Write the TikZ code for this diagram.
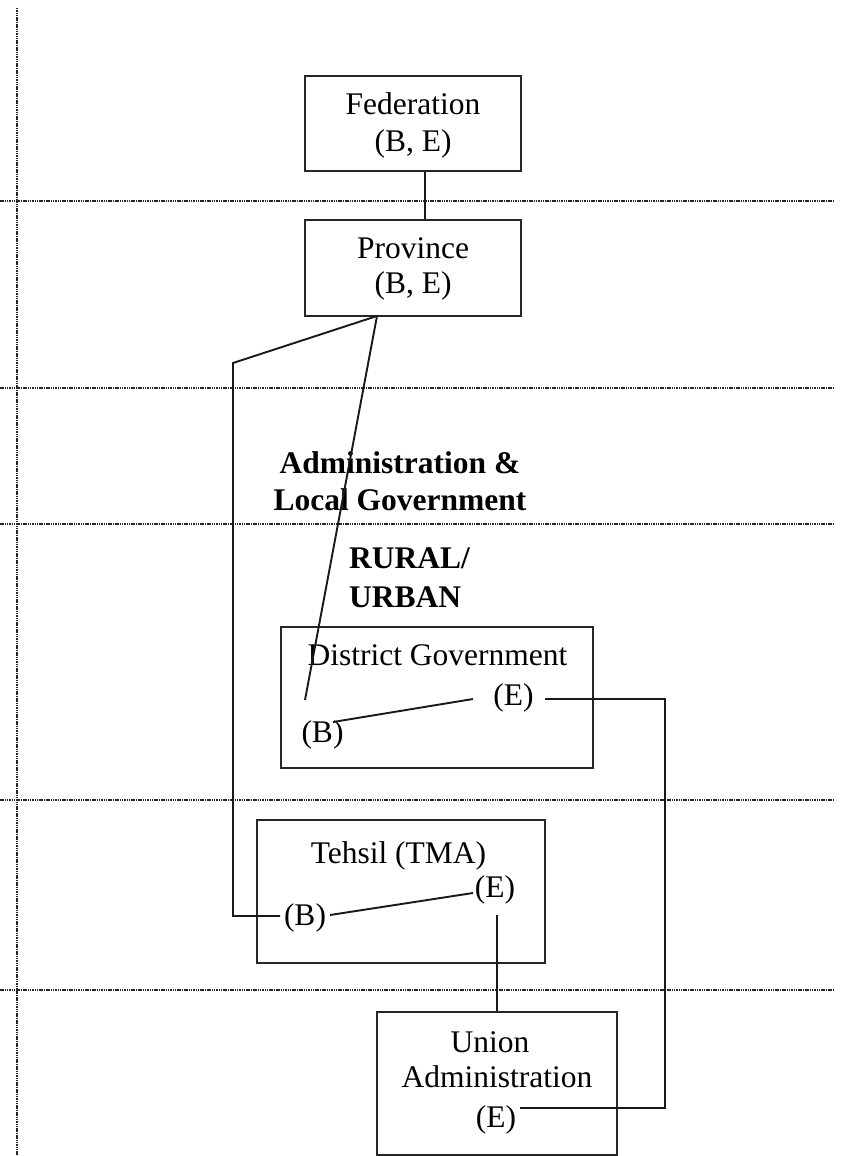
\documentclass[tikz,border=0pt]{standalone}
\usepackage{fontspec}
\setmainfont{Liberation Serif}
\begin{document}
\begin{tikzpicture}[x=1pt,y=-1pt,
  guide/.style={line width=1.4pt,draw=black!85,dash pattern=on 1.5pt off 0.8pt},
  box/.style={draw=black!85,line width=1.9pt,inner sep=0pt},
  link/.style={draw=black!90,line width=1.9pt},
  txt/.style={anchor=base,inner sep=2pt,font=\fontsize{31.5}{37}\selectfont},
  btxt/.style={txt,font=\fontsize{31.5}{37}\selectfont\bfseries}]
\useasboundingbox (0,0) rectangle (844,1156);
% guide lines
\coordinate (v0) at (17,8); \coordinate (v1) at (17,1156);
\draw[guide] (v0) -- (v1);
\foreach \yy/\nm in {201/g1,388/g2,524/g3,800/g4,990/g5}{
  \coordinate (\nm a) at (0,\yy); \coordinate (\nm b) at (833,\yy);
  \draw[guide] (\nm a) -- (\nm b);
}
% boxes
\node[box,minimum width=216pt,minimum height=95pt] (fed) at (413,123.5) {};
\node[box,minimum width=216pt,minimum height=96pt] (prov) at (413,268) {};
\node[box,minimum width=312pt,minimum height=141pt] (dist) at (437,697.5) {};
\node[box,minimum width=288pt,minimum height=143pt] (teh) at (401,891.5) {};
\node[box,minimum width=240pt,minimum height=143pt] (uni) at (497,1083.5) {};
% texts
\node[txt] (fedT) at (413,114) {Federation};
\node[txt] (fedBE) at (413,151) {(B, E)};
\node[txt] (provT) at (413,258) {Province};
\node[txt] (provBE) at (413,293) {(B, E)};
\node[btxt] (adm1) at (400,473) {Administration \&};
\node[btxt] (adm2) at (400,510) {Local Government};
\node[btxt,anchor=base west,inner sep=0pt] (ru1) at (349,568) {RURAL/};
\node[btxt,anchor=base west,inner sep=0pt] (ru2) at (349,607) {URBAN};
\node[txt] (distT) at (437.5,665) {District Government};
\node[txt] (distE) at (513.5,705) {(E)};
\node[txt] (distB) at (322.5,742) {(B)};
\node[txt] (tehT) at (398.5,863) {Tehsil (TMA)};
\node[txt] (tehE) at (495,897) {(E)};
\node[txt] (tehB) at (305,925) {(B)};
\node[txt] (uniT1) at (490,1052) {Union};
\node[txt] (uniT2) at (497,1087) {Administration};
\node[txt] (uniE) at (496,1127) {(E)};
% connector points
\coordinate (pb) at (377,316);
\coordinate (k1) at (233,363);
\coordinate (k2) at (233,916);
\coordinate (tb) at (280,916);
\coordinate (dp) at (305,700);
\coordinate (db) at (333,722);
\coordinate (de) at (473,699);
\coordinate (dr) at (545,699);
\coordinate (r1) at (665,699);
\coordinate (r2) at (665,1108);
\coordinate (ue) at (520,1108);
\coordinate (tbr) at (330,915);
\coordinate (tel) at (473,893);
\coordinate (tev) at (497,915);
% connectors
\draw[link] ([xshift=12pt]fed.south) -- ([xshift=12pt]prov.north);
\draw[link] (pb) -- (k1) -- (k2) -- (tb);
\draw[link] (pb) -- (dp);
\draw[link] (db) -- (de);
\draw[link] (dr) -- (r1) -- (r2) -- (ue);
\draw[link] (tbr) -- (tel);
\draw[link] (tev) -- (tev |- uni.north);
\end{tikzpicture}
\end{document}
